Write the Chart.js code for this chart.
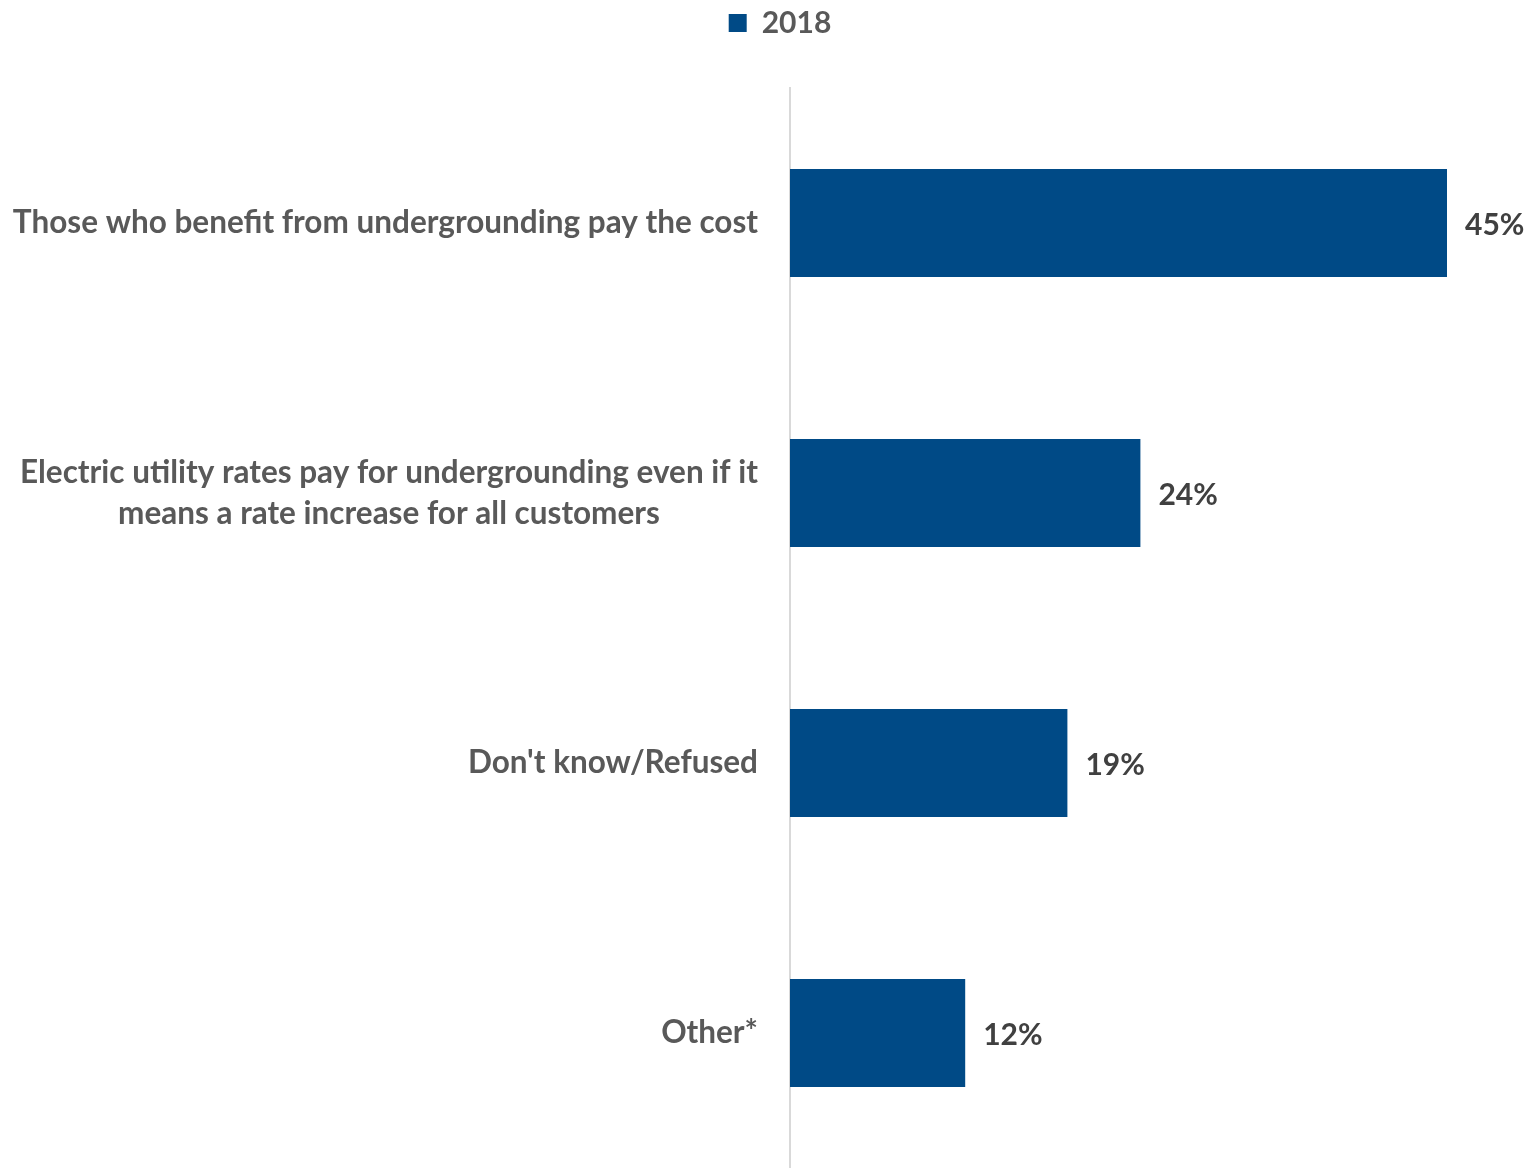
<!DOCTYPE html>
<html>
<head>
<meta charset="utf-8">
<script src="https://cdn.jsdelivr.net/npm/chart.js@4"></script>
<style>
  html, body { margin: 0; padding: 0; background: #fff; }
  #wrap { width: 1532px; height: 1168px; }
</style>
</head>
<body>
<div id="wrap"><canvas id="chart"></canvas></div>
<script>
"use strict";

// Categories and values
const categories = [
    "Those who benefit from undergrounding pay the cost",
    ["Electric utility rates pay for undergrounding even if it", "means a rate increase for all customers"],
    "Don't know/Refused",
    "Other*",
];
const values2018 = [45, 24, 19, 12];
const seriesName = "2018";

const FONT = "Lato, 'Open Sans', sans-serif";
const BAR_COLOR = "#004a86";

// Make the legend box taller so the plot starts lower down
const legendSpacer = {
    id: "legendSpacer",
    beforeInit(chart) {
        const originalFit = chart.legend.fit;
        chart.legend.fit = function fit() {
            originalFit.bind(chart.legend)();
            this.height = 88;
        };
    },
};

// Category labels: right-aligned block, lines centred inside it (like Excel)
const categoryLabels = {
    id: "categoryLabels",
    afterDraw(chart) {
        const ctx = chart.ctx;
        const yScale = chart.scales.y;
        const right = chart.chartArea.left - 32;
        const lineH = 41;
        ctx.save();
        ctx.font = "bold 31.5px " + FONT;
        ctx.fillStyle = "#595959";
        ctx.textAlign = "center";
        ctx.textBaseline = "middle";
        categories.forEach((cat, i) => {
            const lines = Array.isArray(cat) ? cat : [cat];
            const w = Math.max(...lines.map((l) => ctx.measureText(l).width));
            const cx = right - w / 2;
            const y0 = yScale.getPixelForTick(i) - ((lines.length - 1) * lineH) / 2;
            lines.forEach((l, j) => ctx.fillText(l, cx, y0 + j * lineH));
        });
        ctx.restore();
    },
};

// Draw "45%" etc. just past the end of each bar
const valueLabels = {
    id: "valueLabels",
    afterDatasetsDraw(chart) {
        const ctx = chart.ctx;
        const meta = chart.getDatasetMeta(0);
        ctx.save();
        ctx.font = "bold 30px " + FONT;
        ctx.fillStyle = "#404040";
        ctx.textAlign = "left";
        ctx.textBaseline = "middle";
        meta.data.forEach((bar, i) => {
            ctx.fillText(values2018[i] + "%", bar.x + 18, bar.y + 2);
        });
        ctx.restore();
    },
};

new Chart(document.getElementById("chart"), {
    type: "bar",
    data: {
        labels: categories,
        datasets: [
            {
                label: seriesName,
                data: values2018,
                backgroundColor: BAR_COLOR,
                borderWidth: 0,
                categoryPercentage: 1,
                barPercentage: 0.4,
            },
        ],
    },
    options: {
        indexAxis: "y",
        responsive: true,
        maintainAspectRatio: false,
        animation: false,
        layout: {
            padding: { top: 0, right: 12, bottom: 0, left: 40 },
        },
        plugins: {
            legend: {
                position: "top",
                labels: {
                    boxWidth: 18,
                    boxHeight: 18,
                    color: "#595959",
                    padding: 8,
                    font: { family: FONT, size: 30, weight: "bold" },
                },
            },
            tooltip: { enabled: false },
        },
        scales: {
            x: {
                display: false,
                min: 0,
                max: 50,
            },
            y: {
                grid: { display: false },
                border: { display: true, color: "#d9d9d9", width: 2 },
                ticks: { display: false },
                afterFit(scale) {
                    scale.width = 750;
                    scale.paddingTop = 0;
                    scale.paddingBottom = 0;
                },
            },
        },
    },
    plugins: [legendSpacer, valueLabels, categoryLabels],
});
</script>
</body>
</html>
